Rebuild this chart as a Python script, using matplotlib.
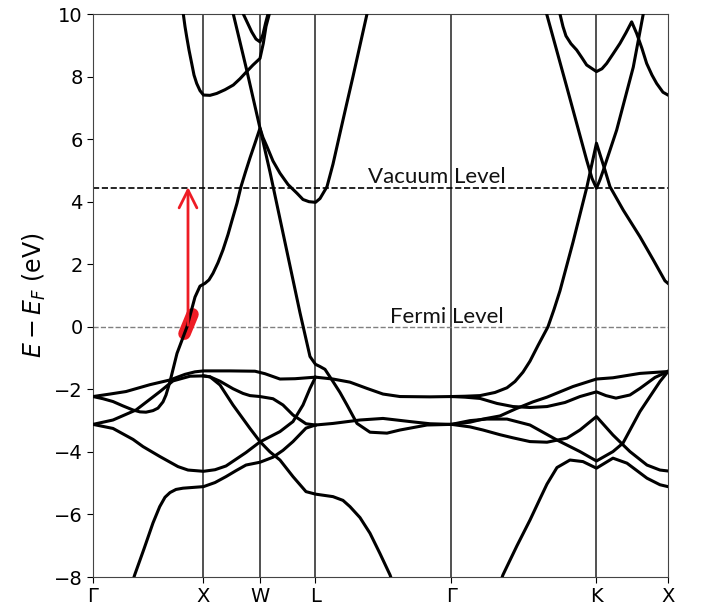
import matplotlib
matplotlib.use("Agg")
import matplotlib.pyplot as plt

# high-symmetry points along the k path (path units)
sym_labels = ["Γ", "X", "W", "L", "Γ", "K", "X"]
sym_k = [0.0, 1.105, 1.67, 2.225, 3.585, 5.035, 5.75]

vacuum_level = 4.45
fermi_level = 0.0

# bands: k (path units) and E - E_F (eV)
low_left_k = [0.36, 0.417, 0.51, 0.60, 0.667, 0.72, 0.77, 0.83, 0.90, 1.105, 1.22, 1.33, 1.43, 1.53, 1.67, 1.80, 1.90,
              2.00, 2.13, 2.225, 2.40, 2.67, 2.90, 3.17, 3.37, 3.585, 3.77, 3.94, 4.14, 4.37, 4.64, 4.87, 5.035, 5.20,
              5.30, 5.47, 5.67, 5.75]
low_left_e = [-8.5, -7.93, -7.1, -6.27, -5.75, -5.45, -5.3, -5.2, -5.16, -5.11, -4.98, -4.79, -4.6, -4.42, -4.33, -4.17,
              -3.95, -3.67, -3.24, -3.14, -3.09, -2.98, -2.93, -3.03, -3.1, -3.12, -3.0, -2.95, -2.95, -3.14, -3.62,
              -3.99, -4.29, -3.99, -3.72, -2.71, -1.75, -1.43]

top_val_k = [0, 0.17, 0.33, 0.57, 0.77, 0.92, 1.02, 1.105, 1.37, 1.62, 1.72, 1.87, 2.02, 2.225, 2.40, 2.57, 2.74, 2.90,
             3.07, 3.37, 3.585, 3.72, 3.87, 4.04, 4.20, 4.37, 4.54, 4.72, 4.87, 5.035, 5.13, 5.23, 5.37, 5.47, 5.62,
             5.75]
top_val_e = [-2.23, -2.15, -2.07, -1.85, -1.70, -1.52, -1.44, -1.41, -1.41, -1.42, -1.5, -1.67, -1.66, -1.61, -1.67,
             -1.77, -1.97, -2.15, -2.23, -2.24, -2.23, -2.25, -2.29, -2.45, -2.55, -2.58, -2.55, -2.42, -2.23, -2.08,
             -2.2, -2.28, -2.18, -1.97, -1.62, -1.43]

steep_k = [0, 0.20, 0.43, 0.67, 0.80, 0.97, 1.105, 1.17, 1.27, 1.40, 1.57, 1.67, 1.77, 1.87, 2.00, 2.13, 2.225, 2.40,
           2.50, 2.57, 2.67, 2.77, 2.87, 2.97, 3.00]
steep_e = [-3.12, -2.98, -2.66, -2.07, -1.73, -1.58, -1.57, -1.6, -1.86, -2.5, -3.25, -3.67, -4.0, -4.26, -4.79, -5.27,
           -5.35, -5.43, -5.55, -5.75, -6.1, -6.6, -7.25, -7.93, -8.2]

xw_k = [1.105, 1.17, 1.27, 1.40, 1.50, 1.57, 1.67, 1.80, 1.90, 2.00, 2.13, 2.225]
xw_e = [-1.57, -1.6, -1.74, -1.98, -2.13, -2.2, -2.23, -2.3, -2.5, -2.82, -3.1, -3.14]

dip_k = [0, 0.20, 0.40, 0.50, 0.67, 0.85, 0.95, 1.105, 1.22, 1.33, 1.53, 1.67, 1.87, 2.00, 2.10, 2.17, 2.225]
dip_e = [-3.12, -3.25, -3.6, -3.83, -4.15, -4.47, -4.58, -4.62, -4.57, -4.45, -4.02, -3.68, -3.35, -3.03, -2.5, -1.97,
         -1.61]

cross_k = [0, 0.10, 0.20, 0.30, 0.40, 0.47, 0.53, 0.60, 0.65, 0.70, 0.73, 0.77, 0.84, 0.94, 1.02, 1.07, 1.12, 1.16,
           1.20, 1.25, 1.30, 1.35, 1.39, 1.44, 1.48, 1.525, 1.57, 1.62, 1.67, 1.70, 1.74, 1.80, 1.87, 1.95, 2.04, 2.10,
           2.16, 2.225, 2.27, 2.34, 2.40, 2.47, 2.535, 2.60, 2.67, 2.74, 2.76]
cross_e = [-2.23, -2.3, -2.39, -2.53, -2.66, -2.72, -2.73, -2.68, -2.6, -2.4, -2.18, -1.75, -0.85, 0.0, 0.95, 1.3, 1.39,
           1.5, 1.71, 2.05, 2.46, 2.95, 3.4, 3.95, 4.48, 4.95, 5.4, 5.87, 6.35, 6.05, 5.76, 5.3, 4.91, 4.55, 4.27, 4.07,
           4.0, 3.98, 4.1, 4.48, 5.2, 6.19, 7.1, 8.0, 9.0, 10.0, 10.3]

wl_k = [1.38, 1.403, 1.537, 1.67, 1.77, 1.87, 1.97, 2.07, 2.17, 2.225, 2.27, 2.32, 2.40, 2.47, 2.54, 2.64, 2.77, 2.94,
        3.07, 3.34, 3.585, 3.77, 3.90, 4.07, 4.20, 4.37, 4.54, 4.74, 4.87, 5.035, 5.20, 5.37, 5.54, 5.67, 5.75]
wl_e = [10.3, 10.0, 8.21, 6.35, 4.95, 3.45, 1.95, 0.45, -0.95, -1.2, -1.27, -1.36, -1.75, -2.1, -2.5, -3.09, -3.37, -3.4,
        -3.3, -3.14, -3.12, -3.2, -3.3, -3.45, -3.55, -3.67, -3.69, -3.56, -3.3, -2.87, -3.46, -3.99, -4.42, -4.58,
        -4.61]

xmin_k = [0.895, 0.903, 0.92, 0.937, 0.96, 0.987, 1.01, 1.037, 1.07, 1.105, 1.17, 1.237, 1.32, 1.403, 1.47, 1.537,
          1.60, 1.67, 1.685, 1.703, 1.73, 1.763, 1.77]
xmin_e = [10.3, 10.0, 9.6, 9.27, 8.85, 8.42, 8.05, 7.78, 7.55, 7.41, 7.4, 7.46, 7.58, 7.73, 7.93, 8.16, 8.37, 8.58, 8.8,
          9.06, 9.6, 10.0, 10.2]

wv_k = [1.49, 1.503, 1.54, 1.587, 1.63, 1.67, 1.70, 1.725, 1.75, 1.755]
wv_e = [10.2, 10.0, 9.75, 9.43, 9.2, 9.11, 9.35, 9.7, 10.0, 10.1]

gk_cond_k = [3.585, 3.72, 3.87, 4.02, 4.14, 4.22, 4.30, 4.37, 4.45, 4.55, 4.61, 4.67, 4.80, 4.94, 5.035, 5.12, 5.17,
             5.303, 5.47, 5.603, 5.687, 5.72, 5.75]
gk_cond_e = [-2.23, -2.22, -2.2, -2.1, -1.95, -1.75, -1.45, -1.1, -0.6, 0.0, 0.55, 1.15, 2.7, 4.48, 5.87, 5.01, 4.48,
             3.73, 2.88, 2.14, 1.66, 1.47, 1.39]

gk_up_k = [3.585, 3.77, 3.90, 4.07, 4.23, 4.40, 4.54, 4.80, 5.035, 5.20, 5.47, 5.75]
gk_up_e = [-3.12, -3.05, -2.95, -2.85, -2.62, -2.4, -2.25, -1.91, -1.67, -1.63, -1.49, -1.43]

low_right_k = [4.07, 4.10, 4.24, 4.37, 4.47, 4.54, 4.64, 4.77, 4.90, 5.035, 5.20, 5.34, 5.54, 5.67, 5.75]
low_right_e = [-8.2, -7.93, -7.0, -6.18, -5.5, -5.03, -4.5, -4.26, -4.31, -4.52, -4.2, -4.36, -4.84, -5.05, -5.11]

kv_k = [4.53, 4.537, 4.737, 4.937, 4.99, 5.035, 5.07, 5.103, 5.237, 5.403, 5.503, 5.51]
kv_e = [10.1, 10.0, 7.68, 5.33, 4.75, 4.43, 4.7, 5.0, 6.29, 8.3, 10.0, 10.1]

k_top_k = [4.66, 4.67, 4.70, 4.73, 4.78, 4.837, 4.89, 4.937, 5.035, 5.09, 5.137, 5.20, 5.27, 5.33, 5.387, 5.437, 5.49,
           5.537, 5.59, 5.637, 5.70, 5.75]
k_top_e = [10.2, 10.0, 9.6, 9.3, 9.05, 8.85, 8.6, 8.37, 8.16, 8.25, 8.42, 8.72, 9.06, 9.4, 9.75, 9.38, 8.9, 8.42, 8.05,
           7.78, 7.5, 7.41]

bands = [
    (low_left_k, low_left_e), (top_val_k, top_val_e), (steep_k, steep_e), (xw_k, xw_e),
    (dip_k, dip_e), (cross_k, cross_e), (wl_k, wl_e), (xmin_k, xmin_e), (wv_k, wv_e),
    (gk_cond_k, gk_cond_e), (gk_up_k, gk_up_e), (low_right_k, low_right_e), (kv_k, kv_e),
    (k_top_k, k_top_e),
]

# highlighted Fermi crossing and excitation arrow
blob_k = [0.915, 0.995]
blob_e = [-0.22, 0.40]
arrow_k = 0.95

fig = plt.figure(figsize=(7.16, 6.07), dpi=100)
ax = fig.add_axes([0.1299, 0.0494, 0.803, 0.9275])

for k in sym_k[1:-1]:
    ax.axvline(k, color="#222222", lw=1.1, zorder=1)

ax.axhline(vacuum_level, color="black", lw=1.2, ls="--", zorder=1)
ax.axhline(fermi_level, color="#808080", lw=1.0, ls="--", zorder=1)

ax.plot(blob_k, blob_e, color="#ee1c25", lw=9, solid_capstyle="round", zorder=2)

for kk, ee in bands:
    ax.plot(kk, ee, color="black", lw=2.2, zorder=3, solid_joinstyle="round")

ax.annotate("", xy=(arrow_k, vacuum_level + 0.02), xytext=(arrow_k, 0.05),
            arrowprops=dict(arrowstyle="->", color="#ee1c25", lw=2.0, mutation_scale=32,
                            shrinkA=0, shrinkB=0), zorder=4)

ax.text(2.753, 4.61, "Vacuum Level", fontsize=16, family="Lato", color="#111111",
        ha="left", va="baseline", zorder=5)
ax.text(2.97, 0.13, "Fermi Level", fontsize=16, family="Lato", color="#111111",
        ha="left", va="baseline", zorder=5)

ax.set_xlim(sym_k[0], sym_k[-1])
ax.set_ylim(-8, 10)
ax.set_xticks(sym_k)
ax.set_xticklabels(sym_labels)
ax.set_yticks(range(-8, 11, 2))
ax.tick_params(labelsize=14, length=4)
ax.set_ylabel(r"$E - E_F$ (eV)", fontsize=17)
for s in ax.spines.values():
    s.set_color("#444444")

fig.savefig("out.png", dpi=100)
